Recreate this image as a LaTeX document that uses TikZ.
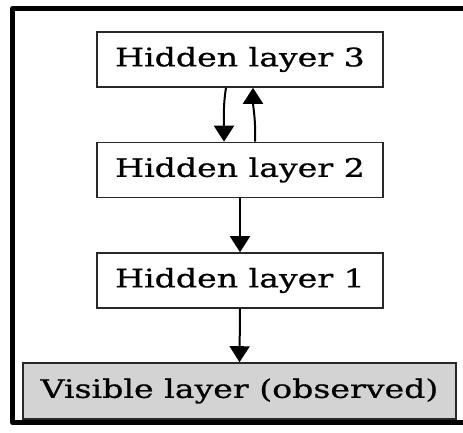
\documentclass[tikz,border=0pt]{standalone}
\usepackage{fontspec}
\usetikzlibrary{arrows.meta}
\newfontfamily\lbl[FakeStretch=1.3,FakeBold=0.8]{DejaVu Serif}
\definecolor{obsfill}{RGB}{211,211,211}
\definecolor{edge}{RGB}{40,40,40}
\begin{document}
\begin{tikzpicture}[x=1pt,y=-1pt,
  layerbox/.style={draw=edge,line width=1.6pt,rectangle,inner sep=0pt,
    minimum width=286pt,minimum height=55pt,
    font=\lbl\fontsize{25.5}{29}\selectfont},
  link/.style={line width=2pt,-{Triangle[width=20pt,length=16pt]}},
  frameline/.style={line width=5pt,line join=round}]
\useasboundingbox (0,0) rectangle (463,432);
\fill[white] (0,0) rectangle (463,432);
% outer frame, open on the right
\draw[frameline] (463,8.5) -- (12.5,8.5) -- (12.5,422.5) -- (463,422.5);
% layers
\node[layerbox] (h3) at (240,59.5) {Hidden layer 3};
\node[layerbox] (h2) at (240,170) {Hidden layer 2};
\node[layerbox] (h1) at (240,280.5) {Hidden layer 1};
\node[layerbox,fill=obsfill,minimum width=433pt,minimum height=56pt] (vis) at (239.5,391) {Visible layer (observed)};
% connections
\draw[link] ([xshift=-14pt]h3.south) .. controls +(-3,18) and +(0,-20) .. ([xshift=-16pt]h2.north);
\draw[link] ([xshift=15pt]h2.north) .. controls +(1,-20) and +(0,18) .. ([xshift=13pt]h3.south);
\draw[link] (h2.south) -- (h1.north);
\draw[link] (h1.south) -- (vis.north);
\end{tikzpicture}
\end{document}
